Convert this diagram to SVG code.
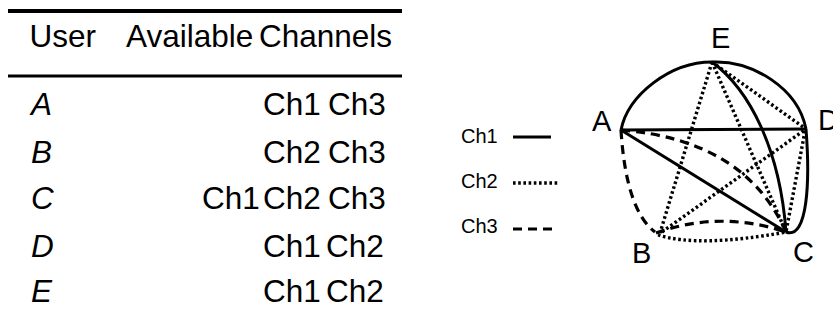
<svg xmlns="http://www.w3.org/2000/svg" width="833" height="325" viewBox="0 0 833 325">
  <style>
    .tbl { font-family: "Liberation Sans", Arial, sans-serif; font-size: 31.5px; fill: #000; }
    .usr { font-style: italic; }
    .lbl { font-family: "Liberation Sans", Arial, sans-serif; font-size: 29px; fill: #000; }
    .leg { font-family: "Liberation Sans", Arial, sans-serif; font-size: 20px; fill: #000; }
    .rule { stroke: #000; fill: none; }
    .ch1 { stroke: #000; stroke-width: 3; fill: none; }
    .ch2 { stroke: #000; stroke-width: 3.4; fill: none; stroke-dasharray: 2.6 2.6; }
    .ch3 { stroke: #000; stroke-width: 3.2; fill: none; stroke-dasharray: 9 6; }
  </style>
  <rect width="833" height="325" fill="#fff"/>

  <!-- channel availability table -->
  <g id="table">
    <line class="rule" x1="8" y1="11" x2="402" y2="11" stroke-width="4"/>
    <line class="rule" x1="8" y1="76" x2="402" y2="76" stroke-width="3"/>
    <text class="tbl" x="29.5" y="47">User</text>
    <text class="tbl" x="126" y="47">Available</text>
    <text class="tbl" x="259" y="47">Channels</text>

    <text class="tbl usr" x="31" y="115">A</text>
    <text class="tbl" x="263" y="115">Ch1</text>
    <text class="tbl" x="328" y="115">Ch3</text>

    <text class="tbl usr" x="31" y="163">B</text>
    <text class="tbl" x="263" y="163">Ch2</text>
    <text class="tbl" x="328" y="163">Ch3</text>

    <text class="tbl usr" x="31" y="209">C</text>
    <text class="tbl" x="202" y="209">Ch1</text>
    <text class="tbl" x="263" y="209">Ch2</text>
    <text class="tbl" x="328" y="209">Ch3</text>

    <text class="tbl usr" x="31" y="257">D</text>
    <text class="tbl" x="263" y="257">Ch1</text>
    <text class="tbl" x="326" y="257">Ch2</text>

    <text class="tbl usr" x="31" y="302">E</text>
    <text class="tbl" x="263" y="302">Ch1</text>
    <text class="tbl" x="326" y="302">Ch2</text>
  </g>

  <!-- line-style legend -->
  <g id="legend">
    <text class="leg" x="461" y="143">Ch1</text>
    <line class="ch1" x1="513" y1="137" x2="551" y2="137"/>
    <text class="leg" x="461" y="188">Ch2</text>
    <line class="ch2" x1="513" y1="183" x2="558" y2="183"/>
    <text class="leg" x="461" y="233">Ch3</text>
    <line class="ch3" x1="513" y1="229" x2="553" y2="229"/>
  </g>

  <!-- links: solid = Ch1, dotted = Ch2, dashed = Ch3 -->
  <g id="connectors">
    <!-- Ch1 among A, C, D, E -->
    <path class="ch1" d="M621,130 C628,95 670,62 712,62"/>
    <path class="ch1" d="M712,62 C752,60 798,88 806,129"/>
    <path class="ch1" d="M621,130 L806,129"/>
    <path class="ch1" d="M621,130 L786,232"/>
    <path class="ch1" d="M712,62 C750,90 780,150 786,232"/>
    <path class="ch1" d="M806,129 C810,180 808,240 786,232"/>

    <!-- Ch2 among B, C, D, E -->
    <path class="ch2" d="M712,62 L660,233"/>
    <path class="ch2" d="M712,62 L786,232"/>
    <path class="ch2" d="M712,62 L806,129"/>
    <path class="ch2" d="M662,232 L806,129"/>
    <path class="ch2" d="M805,131 L786,232"/>
    <path class="ch2" d="M658,235 Q700,248 786,232"/>

    <!-- Ch3 among A, B, C -->
    <path class="ch3" d="M621,130 Q626,210 655,232"/>
    <path class="ch3" d="M621,130 Q745,140 786,232"/>
    <path class="ch3" d="M656,233 Q720,210 786,232"/>
  </g>

  <!-- user nodes -->
  <g id="node-A"><text class="lbl" x="592" y="131">A</text></g>
  <g id="node-B"><text class="lbl" x="632" y="263">B</text></g>
  <g id="node-C"><text class="lbl" x="793" y="262">C</text></g>
  <g id="node-D"><text class="lbl" x="818" y="130">D</text></g>
  <g id="node-E"><text class="lbl" x="711" y="48">E</text></g>
</svg>
